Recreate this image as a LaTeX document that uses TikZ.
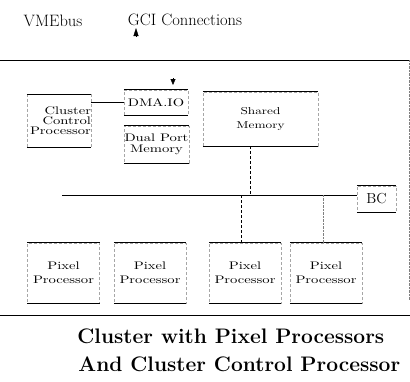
\documentclass[tikz,border=0pt]{standalone}
\usepackage{fontspec}
\newfontfamily\wide{lmroman10-regular.otf}[FakeStretch=1.33]
\usetikzlibrary{arrows.meta}

\begin{document}
\begin{tikzpicture}
[x=1pt,y=-1pt,thick,%
  unit/.style={draw=black!35,densely dashed,thin,align=center,inner sep=0pt,
    font=\wide\fontsize{11}{14}\selectfont},%
  label/.style={font=\fontsize{16.5}{18}\selectfont,inner sep=0pt,anchor=base},%
  caption/.style={font=\fontsize{21}{24}\selectfont\bfseries,inner sep=0pt,anchor=base west},%
  tip/.style={-{Triangle[width=5pt,length=8pt]},thin}]
\useasboundingbox (0,0) rectangle (410,381);
% headings
\node[label] (vme) at (53,26) {VMEbus};
\node[label] (gci) at (185,25) {GCI Connections};
\coordinate (gcitop) at (136,28);
\coordinate (gcibot) at (136,37);
\draw[tip] (gcibot) -- (gcitop);
% cluster frame
\draw (0,60) -- (410,60);
\draw (0,315) -- (410,315);
\draw[thin,densely dotted,black!50] (409,60) -- (409,300);
% units
\node[unit,minimum width=64pt,minimum height=53pt,text width=64pt,align=right,
  font=\wide\fontsize{11}{10}\selectfont] (ccp) at (59,121) {Cluster\\Control\\Processor};
\node[unit,minimum width=64pt,minimum height=25pt] (dma) at (156,102.5) {DMA.IO};
\node[unit,minimum width=65pt,minimum height=37pt,font=\wide\fontsize{11}{11}\selectfont]
  (dpm) at (156.5,144.5) {Dual Port\\Memory};
\node[unit,minimum width=115pt,minimum height=54pt,font=\wide\fontsize{10}{14}\selectfont]
  (shm) at (260.5,119) {Shared\\Memory};
\node[unit,minimum width=39pt,minimum height=26pt,font=\fontsize{14.5}{16}\selectfont]
  (bc) at (376.5,199) {BC};
\foreach \n/\x in {p1/63.5,p2/150,p3/245,p4/326}
  \node[unit,minimum width=72pt,minimum height=60pt] (\n) at (\x,273) {Pixel\\Processor};
\foreach \n in {ccp,dma,dpm,shm,bc,p1,p2,p3,p4}
  \draw (\n.north west) -- (\n.north east) (\n.south west) -- (\n.south east);
\coordinate (dmain) at (173,78);
\draw[tip,-{Triangle[width=5pt,length=6pt]}] (dmain) -- ++(0,7);
\draw (dma.west) -- (dma.west -| ccp.east);
% bus
\coordinate (busw) at (62,195);
\draw (busw) -- (bc.west |- busw);
\draw[thin,densely dashed] ([xshift=-10pt]shm.south) -- ([xshift=-10pt]shm.south |- busw);
\draw[thin,densely dashed] (p3.north -| 241,0) -- (241,195);
\draw[thin,densely dotted,black!50] (p4.north -| 323,0) -- (323,195);
% caption
\node[caption] (cap1) at (77,343) {Cluster with Pixel Processors};
\node[caption] (cap2) at (78,371) {And Cluster Control Processor};
\end{tikzpicture}
\end{document}
